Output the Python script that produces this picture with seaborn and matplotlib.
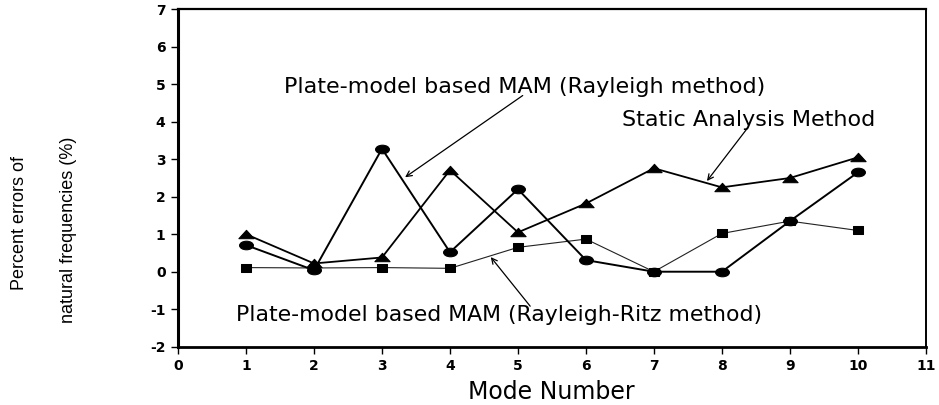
import matplotlib
matplotlib.use("Agg")
import pandas as pd
import matplotlib.pyplot as plt
import seaborn as sns
from matplotlib.path import Path
from matplotlib.transforms import Affine2D

# --- datos ---
modes = [1, 2, 3, 4, 5, 6, 7, 8, 9, 10]
rayleigh = [0.71, 0.04, 3.28, 0.52, 2.2, 0.31, 0.0, 0.0, 1.35, 2.65]
static = [1.0, 0.22, 0.38, 2.71, 1.05, 1.82, 2.76, 2.25, 2.5, 3.05]
rayleigh_ritz = [0.11, 0.1, 0.11, 0.09, 0.65, 0.87, 0.0, 1.02, 1.35, 1.1]
x_ticks = list(range(0, 12))
y_ticks = list(range(-2, 8))

df = pd.DataFrame({
    "mode": modes * 3,
    "error": rayleigh + static + rayleigh_ritz,
    "method": ["rayleigh"] * 10 + ["static"] * 10 + ["ritz"] * 10,
})

sns.set_style("white")
plt.rcParams["font.family"] = ["DejaVu Sans"]
plt.rcParams["axes.unicode_minus"] = False
plt.rcParams["text.color"] = "black"
plt.rcParams["axes.labelcolor"] = "black"

# marcadores aplastados como en el escaneo
elipse = Path.unit_circle().transformed(Affine2D().scale(1.0, 0.62))
triangulo = Path([(-1, -0.55), (1, -0.55), (0, 0.55), (-1, -0.55)], closed=True)
cuadrado = Path([(-1, -0.8), (1, -0.8), (1, 0.8), (-1, 0.8), (-1, -0.8)], closed=True)

fig = plt.figure(figsize=(9.39, 4.05), dpi=100)
ax = fig.add_axes([0.1896, 0.144, 0.7964, 0.833])

estilos = {
    "ritz": dict(marker=cuadrado, lw=0.8, ms=7.5, color="#222222"),
    "static": dict(marker=triangulo, lw=1.3, ms=11, color="black"),
    "rayleigh": dict(marker=elipse, lw=1.4, ms=10, color="black"),
}
for metodo, st in estilos.items():
    sub = df[df["method"] == metodo]
    sns.lineplot(data=sub, x="mode", y="error", ax=ax, color=st["color"],
                 marker=st["marker"], markersize=st["ms"], linewidth=st["lw"],
                 markeredgecolor="black", markerfacecolor="black")

ax.set_xlim(0, 11)
ax.set_ylim(-2, 7)
ax.set_xticks(x_ticks)
ax.set_yticks(y_ticks)
ax.tick_params(direction="out", length=5, width=1, colors="black",
               labelsize=10, bottom=True, left=True, pad=4)
for lab in ax.get_xticklabels() + ax.get_yticklabels():
    lab.set_fontweight("bold")

for lado, w in [("left", 2.2), ("bottom", 2.0), ("top", 1.6), ("right", 1.4)]:
    ax.spines[lado].set_visible(True)
    ax.spines[lado].set_color("black")
    ax.spines[lado].set_linewidth(w)

ax.set_xlabel("Mode Number", fontsize=17, color="black")
ax.xaxis.set_label_coords(0.499, -0.1)
ax.set_ylabel("")

# etiqueta del eje y en dos lineas
fig.text(0.021, 0.45, "Percent errors of", rotation=90, ha="center", va="center",
         fontsize=13, family=["Liberation Sans", "DejaVu Sans"], color="black")
fig.text(0.073, 0.432, "natural frequencies (%)", rotation=90, ha="center", va="center",
         fontsize=13, family=["Liberation Sans", "DejaVu Sans"], color="black")

flecha = dict(arrowstyle="->", color="black", lw=0.9, shrinkA=0, shrinkB=0)
ax.annotate("", xy=(3.34, 2.52), xytext=(5.07, 4.7), arrowprops=flecha)
ax.text(5.1, 4.92, "Plate-model based MAM (Rayleigh method)", fontsize=16,
        ha="center", va="center", color="black")
ax.annotate("", xy=(7.78, 2.42), xytext=(8.38, 3.84), arrowprops=flecha)
ax.text(8.4, 4.05, "Static Analysis Method", fontsize=16,
        ha="center", va="center", color="black")
ax.annotate("", xy=(4.6, 0.39), xytext=(5.18, -0.92), arrowprops=flecha)
ax.text(4.72, -1.15, "Plate-model based MAM (Rayleigh-Ritz method)", fontsize=15.8,
        ha="center", va="center", color="black")

fig.savefig("out.png", dpi=100)
